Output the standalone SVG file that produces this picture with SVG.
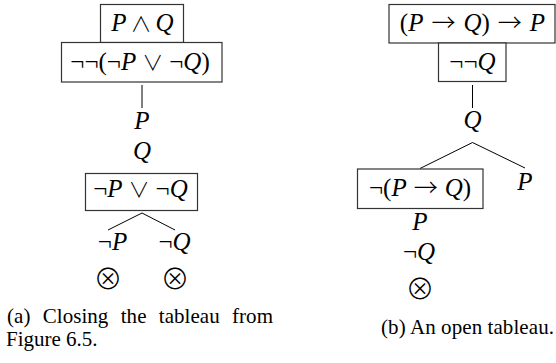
<svg xmlns="http://www.w3.org/2000/svg" width="556" height="363" viewBox="0 0 556 363">
<style>
.m{font-family:"Liberation Serif","DejaVu Serif",serif;font-size:25px;fill:#000;text-anchor:middle}
.i{font-style:italic}
.o{font-family:"Noto Sans CJK JP","DejaVu Serif",serif;font-weight:300;font-size:21px}
.a{font-family:"Noto Sans CJK JP","DejaVu Serif",serif;font-weight:300;font-size:24px}
.x{font-family:"Noto Sans CJK JP","DejaVu Serif",serif;font-weight:300;font-size:29px;fill:#000;text-anchor:middle}
.box{fill:#fff;stroke:#333;stroke-width:1.2}
.edge{stroke:#000;stroke-width:1;fill:none}
.cap{font-family:"Liberation Serif","DejaVu Serif",serif;font-size:21px;fill:#000}
</style>
<rect width="556" height="363" fill="#fff"/>
<g id="connectors">
<line class="edge" x1="142" y1="85" x2="142" y2="108"/>
<line class="edge" x1="142" y1="213" x2="108" y2="230"/>
<line class="edge" x1="142" y1="213" x2="175" y2="230"/>
<line class="edge" x1="472.5" y1="85" x2="472.5" y2="108"/>
<line class="edge" x1="472.5" y1="142.5" x2="420" y2="168.5"/>
<line class="edge" x1="472.5" y1="142.5" x2="525" y2="168"/>
</g>
<g id="a-n1"><rect class="box" x="100.5" y="4.5" width="83" height="38"/><text class="m" x="142.5" y="31"><tspan class="i">P</tspan><tspan class="o" dx="4">∧</tspan><tspan class="i" dx="4">Q</tspan></text></g>
<g id="a-n2"><rect class="box" x="61.5" y="42.5" width="160.5" height="39.5"/><text class="m" x="140" y="70">¬¬(¬<tspan class="i">P</tspan><tspan class="o" dx="6">∨</tspan><tspan dx="6">¬</tspan><tspan class="i">Q</tspan>)</text></g>
<g id="a-n3"><text class="m i" x="142" y="129">P</text></g>
<g id="a-n4"><text class="m i" x="142" y="159">Q</text></g>
<g id="a-n5"><rect class="box" x="85.5" y="173.5" width="112" height="37"/><text class="m" x="140.5" y="197">¬<tspan class="i">P</tspan><tspan class="o" dx="6">∨</tspan><tspan dx="6">¬</tspan><tspan class="i">Q</tspan></text></g>
<g id="a-n6"><text class="m" x="112.5" y="250">¬<tspan class="i">P</tspan></text></g>
<g id="a-n7"><text class="m" x="174.5" y="250">¬<tspan class="i">Q</tspan></text></g>
<g id="a-n8"><text class="x" x="108" y="289.5">⊗</text></g>
<g id="a-n9"><text class="x" x="175" y="289.5">⊗</text></g>
<g id="b-n1"><rect class="box" x="389" y="4.5" width="166" height="38.5"/><text class="m" x="472.5" y="31">(<tspan class="i">P</tspan><tspan class="a" dx="8">→</tspan><tspan class="i" dx="8">Q</tspan>)<tspan class="a" dx="8">→</tspan><tspan class="i" dx="8">P</tspan></text></g>
<g id="b-n2"><rect class="box" x="438.5" y="43" width="67.5" height="38.5"/><text class="m" x="472.5" y="70">¬¬<tspan class="i">Q</tspan></text></g>
<g id="b-n3"><text class="m i" x="472.5" y="128">Q</text></g>
<g id="b-n4"><rect class="box" x="357.5" y="169" width="125.5" height="39.5"/><text class="m" x="420" y="196">¬(<tspan class="i">P</tspan><tspan class="a" dx="7">→</tspan><tspan class="i" dx="7">Q</tspan>)</text></g>
<g id="b-n5"><text class="m i" x="525" y="190">P</text></g>
<g id="b-n6"><text class="m i" x="420" y="230">P</text></g>
<g id="b-n7"><text class="m" x="419" y="260">¬<tspan class="i">Q</tspan></text></g>
<g id="b-n8"><text class="x" x="420" y="299.5">⊗</text></g>
<g id="captions">
<text class="cap" x="7" y="323" textLength="266" word-spacing="7">(a) Closing the tableau from</text>
<text class="cap" x="6" y="346">Figure 6.5.</text>
<text class="cap" x="381" y="334" textLength="173">(b) An open tableau.</text>
</g>
</svg>
